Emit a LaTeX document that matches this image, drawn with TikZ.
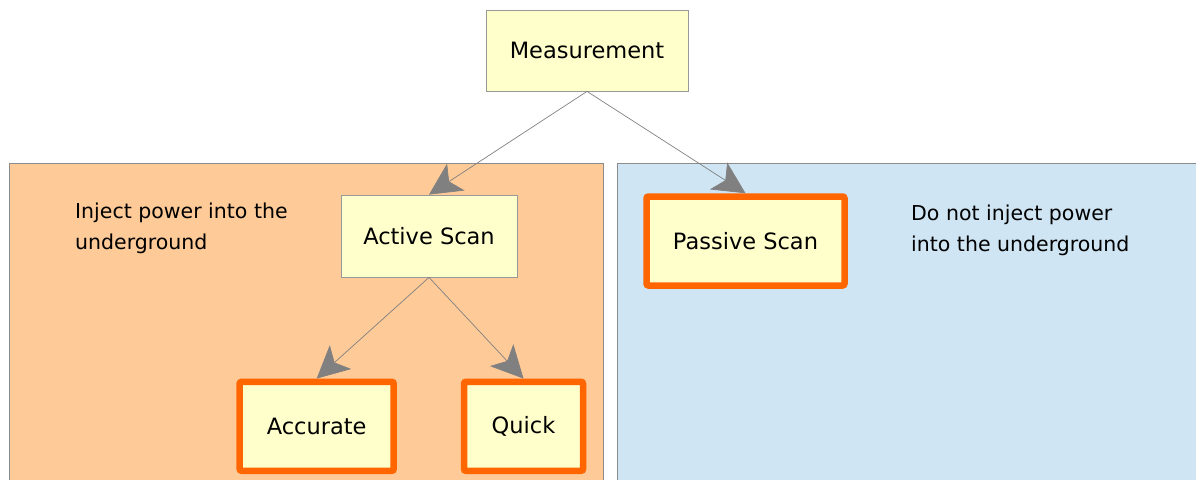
\documentclass[tikz,border=0pt]{standalone}
\usepackage{fontspec}
\setmainfont{DejaVu Sans}
\usetikzlibrary{arrows.meta}

\definecolor{boxfill}{HTML}{FFFFCC}
\definecolor{peach}{HTML}{FDCA98}
\definecolor{skyfill}{HTML}{CFE5F3}
\definecolor{hot}{HTML}{FF6600}

\begin{document}
\begin{tikzpicture} [x=1pt, y=-1pt,
				method/.style={
				% The shape:
				rectangle,
				% The border:
      				draw=black!40, line width=0.8pt,
      				% The filling:
				fill=boxfill,
				% Font
				font=\fontsize{22.5}{27}\selectfont, inner sep=0pt
    				},
				final/.style={
				% The shape:
				rectangle, rounded corners=2pt,
				% The border:
      				draw=hot, line width=6.5pt,
      				% The filling:
				fill=boxfill,
				% Font
				font=\fontsize{22.5}{27}\selectfont, inner sep=0pt
    				},
				region/.style={
				% The border:
      				draw=black!45, line width=0.8pt
    				},
				note/.style={
				align=left, anchor=west, inner sep=0pt,
				font=\fontsize{20.5}{31}\selectfont
    				},
				link/.style={
				draw=black!50, line width=0.7pt,
				-{Stealth[length=32pt, width=32pt, inset=8pt, color=black!50, fill=black!50]}
    				},
				]
    \useasboundingbox (0,0) rectangle (1196,479);
    % the two areas
    \draw [region, fill=peach] (9,163) rectangle (603,495);
    \draw [region, fill=skyfill] (617,163) rectangle (1205,495);
    \node [note] (injecttext) at (75,228) {Inject power into the\\underground};
    \node [note] (passivetext) at (911,230) {Do not inject power\\into the underground};
    % the tree
    \node [method, minimum width=202pt, minimum height=81pt] (meas) at (587,50.5) {Measurement};
    \node [method, minimum width=176pt, minimum height=82pt] (active) at (429,236) {Active Scan};
    \node [final, minimum width=198pt, minimum height=89pt] (passive) at (745.5,241) {Passive Scan};
    \node [final, minimum width=154pt, minimum height=89pt] (accurate) at (316.7,426.3) {Accurate};
    \node [final, minimum width=119pt, minimum height=89pt] (quick) at (523.5,426.3) {Quick};
    \draw [link] (meas.south) -- (active.north);
    \draw [link] (meas.south) -- (passive.north);
    \draw [link] (active.south) -- (accurate.north);
    \draw [link] (active.south) -- (quick.north);
\end{tikzpicture}
\end{document}
